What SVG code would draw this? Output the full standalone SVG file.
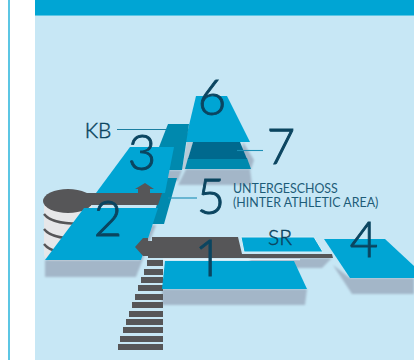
<svg xmlns="http://www.w3.org/2000/svg" width="414" height="360" viewBox="0 0 414 360">
<defs>
<filter id="soft" x="-20%" y="-40%" width="140%" height="180%"><feGaussianBlur stdDeviation="1.3"/></filter>
<clipPath id="cyl"><path d="M43 198H93V266H43Z"/></clipPath>
</defs>
<style>
.plate{fill:#00a5d4}
.teal{fill:#0089ae}
.dark{fill:#00698e}
.grey{fill:#565658}
.shadow{fill:#a3b6c8;filter:url(#soft)}
.num{font-family:"Lato","Noto Sans",sans-serif;font-weight:300;fill:#0b4560;stroke:#0b4560;text-anchor:middle}
.big{font-size:49px;stroke-width:.9px}
.lab{font-size:21px;stroke-width:.45px}
.one{font-family:"Open Sans",sans-serif}
.small{font-family:"Lato","Noto Sans",sans-serif;font-weight:400;fill:#1d5c78;font-size:12.4px}
.line{fill:none;stroke-width:1.1}
.stripe{fill:none;stroke:#565658;stroke-width:2.4}
</style>
<rect width="414" height="360" fill="#ffffff"/>
<rect x="8" width="2" height="360" fill="#5cc6e4"/>
<rect x="35" width="379" height="360" fill="#c7e7f5"/>
<rect x="35" width="379" height="15" fill="#00a5d4"/>
<rect x="35" y="15" width="379" height="1" fill="#5cc6e4"/>

<g id="node-stack">
<path d="M44 200V254C44 262 58 265 70 265C80 265 92 262 92 258V200Z" fill="#e6e7e9"/>
<g clip-path="url(#cyl)">
<path class="stripe" d="M44 214C50 222 64 225 92 223"/>
<path class="stripe" d="M44 229C50 237 64 240 92 238"/>
<path class="stripe" d="M44 244C50 252 64 255 92 253"/>
</g>
<ellipse class="grey" cx="68" cy="201" rx="25" ry="12"/>
</g>

<g id="shadows">
<path class="shadow" d="M45 260V277H136L156 225H148L140 260Z"/>
<path class="shadow" d="M162 289V305H305L307 289Z"/>
<path class="shadow" d="M250 258V268H322L332 258Z"/>
<path class="shadow" d="M333 265L352 294H414V278H350Z"/>
<path class="shadow" d="M186 169L178 185H252L250 169Z"/>
<path class="shadow" d="M243 142L254 160L251 169L240 169Z"/>
<path class="shadow" d="M156 170V181H178L182 170Z"/>
</g>

<g id="node-7">
<path d="M187 142H193L186 169H182Z" fill="#b6cbd8"/>
<path class="teal" d="M188 158H247L251 169H185Z"/>
<path class="dark" d="M193 142H240L247 159H188Z"/>
<text class="num big" x="281" y="164">7</text>
</g>
<g id="node-6">
<path class="plate" d="M196 96H227L250 142H185Z"/>
<text class="num big" x="212" y="115">6</text>
</g>
<g id="node-kb">
<path class="teal" d="M168 124H189L182 170H150Z"/>
<text class="num lab" x="98" y="138">KB</text>
</g>
<g id="node-5">
<path class="teal" d="M165 178H177L164 224H151Z"/>
<text class="num big" x="211" y="214">5</text>
<text class="small" x="233" y="193">UNTERGESCHOSS</text>
<text class="small" x="233" y="207">(HINTER ATHLETIC AREA)</text>
</g>
<g id="node-3">
<path class="plate" d="M130 147H174L165 193H96Z"/>
<path class="grey" d="M138 193V189H135L145 183L154 189H150V193Z"/>
<path class="grey" d="M80 193H162L158 205H80Z"/>
<text class="num big" x="142" y="170">3</text>
</g>
<g id="node-2">
<path class="plate" d="M84 208H158L141 260H45Z"/>
<text class="num big" x="108" y="236">2</text>
</g>
<g id="node-stairs">
<path class="grey" d="M147 260H163V266H147ZM144 269H163V275H144ZM141 277H163V283H141ZM138 285H163V291H138ZM135 294H163V300H135ZM132 302H163V308H132ZM129 311H163V317H129ZM126 319H163V325H126ZM123 327H163V333H123ZM120 336H163V342H120ZM118 344H163V350H118Z"/>
</g>
<g id="node-1">
<path class="grey" d="M152 237H238L242 254H323L332 254L333 258H148V256H143L135 247L143 238H148V241H152Z"/>
<path d="M163 259.500H300" stroke="#e3f2f9" stroke-width="1.500" fill="none"/>
<path class="plate" d="M165 261H294L307 289H162Z"/>
<text class="num big one" x="209" y="276">1</text>
</g>
<g id="node-sr">
<path class="plate" d="M241 237H314L323 252H244Z" stroke="#d8eef7" stroke-width="1"/>
<text class="num lab" x="280" y="245">SR</text>
</g>
<g id="node-4">
<path class="plate" d="M324 239H385L427 278H350Z"/>
<text class="num big" x="364" y="257">4</text>
</g>
<g id="connectors">
<path class="line" stroke="#1b7ea0" d="M117 129.500H166"/>
<path class="line" stroke="#1b8fb5" d="M168 198H197"/>
<path class="line" stroke="#1b8fb5" d="M237 150.500H263"/>
</g>
</svg>
